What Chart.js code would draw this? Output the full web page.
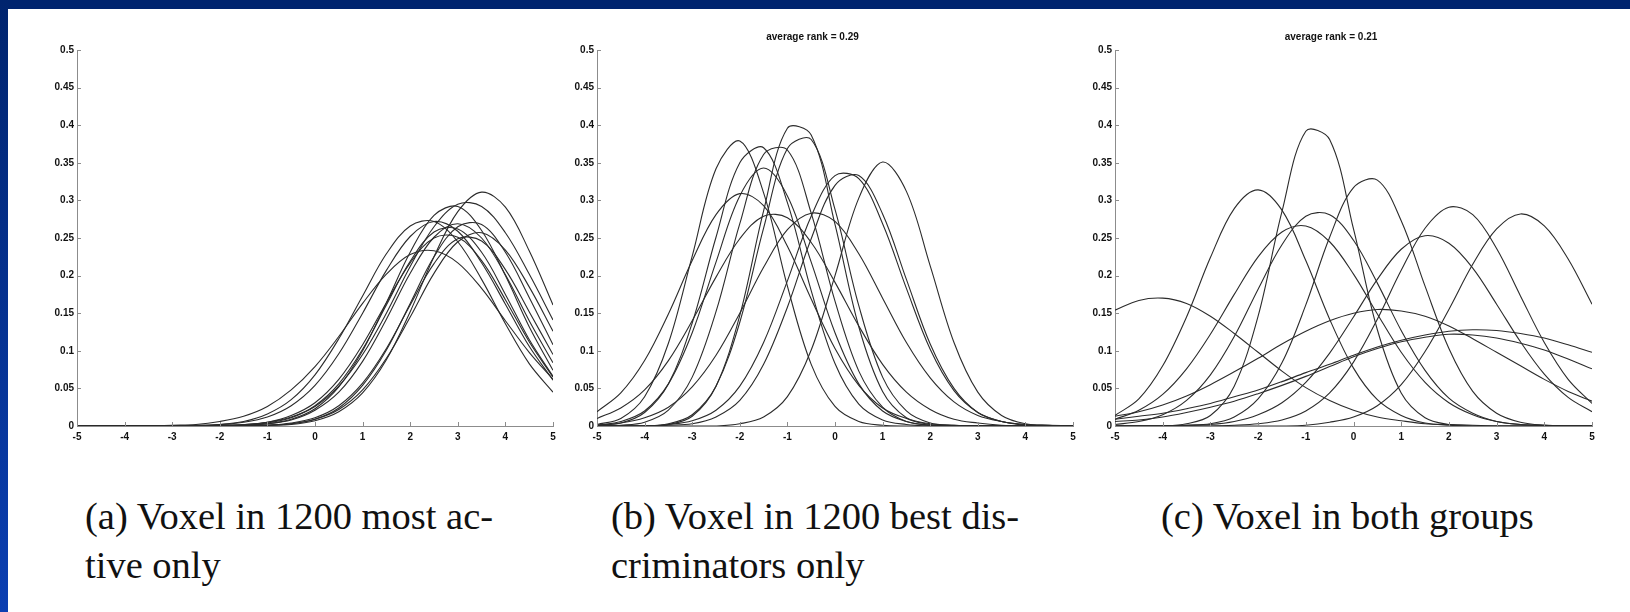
<!DOCTYPE html>
<html>
<head>
<meta charset="utf-8">
<script src="https://cdn.jsdelivr.net/npm/chart.js@4.4.1/dist/chart.umd.min.js"></script>
<style>
  html, body { margin: 0; padding: 0; }
  body { width: 1630px; height: 612px; position: relative; overflow: hidden; background: #fff; }
  .bar-top { position: absolute; left: 0; top: 0; width: 1630px; height: 9px; background: #00246e; }
  .bar-left { position: absolute; left: 0; top: 0; width: 8px; height: 612px; background: linear-gradient(#00246e, #0b3fb2); }
  canvas { position: absolute; }
  .cap { position: absolute; top: 492px; font-family: "Liberation Serif", "Times New Roman", serif; font-size: 38.5px; line-height: 49px; color: #111; white-space: nowrap; }
</style>
</head>
<body>
<div class="bar-top"></div>
<div class="bar-left"></div>

<canvas id="chartA" width="533" height="426" style="left:32px; top:25px"></canvas>
<canvas id="chartB" width="533" height="426" style="left:552px; top:25px"></canvas>
<canvas id="chartC" width="534" height="426" style="left:1070px; top:25px"></canvas>

<div class="cap" style="left:85px">(a) Voxel in 1200 most ac-<br>tive only</div>
<div class="cap" style="left:611px">(b) Voxel in 1200 best dis-<br>criminators only</div>
<div class="cap" style="left:1161px">(c) Voxel in both groups</div>

<script>
// x positions of the sampled curves
const xValues = [-5, -4.5, -4, -3.5, -3, -2.5, -2, -1.5, -1, -0.5, 0, 0.5, 1, 1.5, 2, 2.5, 3, 3.5, 4, 4.5, 5];
const xTickLabels = ['-5', '-4', '-3', '-2', '-1', '0', '1', '2', '3', '4', '5'];
const yTickLabels = ['0', '0.05', '0.1', '0.15', '0.2', '0.25', '0.3', '0.35', '0.4', '0.45', '0.5'];
const panelTitles = ['', 'average rank = 0.29', 'average rank = 0.21'];

// (a) most active only
const a1 = [0,0,0,0,0,0,0,0,0.001,0.002,0.007,0.019,0.044,0.088,0.152,0.225,0.285,0.311,0.291,0.233,0.161];
const a2 = [0,0,0,0,0,0,0.001,0.002,0.005,0.012,0.026,0.053,0.095,0.150,0.212,0.265,0.295,0.292,0.257,0.202,0.141];
const a3 = [0,0,0,0,0,0,0,0.001,0.003,0.009,0.023,0.052,0.100,0.164,0.231,0.280,0.292,0.260,0.200,0.132,0.074];
const a4 = [0,0,0,0,0,0.001,0.002,0.006,0.016,0.035,0.068,0.116,0.173,0.229,0.266,0.272,0.245,0.195,0.136,0.083,0.045];
const a5 = [0,0,0,0,0,0,0.002,0.005,0.012,0.027,0.054,0.096,0.150,0.207,0.252,0.272,0.259,0.217,0.162,0.106,0.061];
const a6 = [0,0,0,0,0,0,0,0,0.001,0.003,0.009,0.024,0.054,0.101,0.163,0.225,0.265,0.268,0.231,0.171,0.108];
const a7 = [0,0,0,0,0,0,0,0.001,0.003,0.008,0.021,0.045,0.086,0.142,0.203,0.251,0.269,0.250,0.201,0.140,0.084];
const a8 = [0,0,0,0,0,0,0,0.001,0.004,0.011,0.027,0.056,0.102,0.161,0.219,0.258,0.262,0.231,0.175,0.115,0.066];
const a9 = [0,0,0,0,0,0,0,0,0.001,0.003,0.009,0.022,0.048,0.090,0.145,0.203,0.245,0.257,0.234,0.185,0.126];
const a10 = [0,0,0,0,0,0,0,0,0.001,0.004,0.011,0.027,0.057,0.103,0.161,0.216,0.249,0.246,0.208,0.152,0.095];
const a11 = [0,0,0,0,0.001,0.002,0.006,0.013,0.026,0.048,0.079,0.119,0.163,0.202,0.228,0.233,0.217,0.183,0.140,0.098,0.062];
const a12 = [0,0,0,0,0,0,0.001,0.002,0.005,0.014,0.031,0.062,0.108,0.164,0.217,0.250,0.251,0.220,0.168,0.112,0.065];

// (b) best discriminators only
const b1 = [0.002,0.010,0.039,0.110,0.226,0.342,0.379,0.310,0.186,0.082,0.026,0.006,0.001,0,0,0,0,0,0,0,0];
const b2 = [0.001,0.004,0.018,0.056,0.137,0.251,0.350,0.370,0.297,0.180,0.083,0.029,0.008,0.002,0,0,0,0,0,0,0];
const b3 = [0,0.001,0.005,0.021,0.065,0.152,0.269,0.361,0.367,0.283,0.166,0.073,0.025,0.006,0.001,0,0,0,0,0,0];
const b4 = [0,0,0,0.002,0.013,0.053,0.147,0.286,0.396,0.387,0.268,0.132,0.046,0.011,0.002,0,0,0,0,0,0];
const b5 = [0,0,0,0.003,0.015,0.053,0.138,0.263,0.369,0.381,0.288,0.160,0.065,0.020,0.004,0.001,0,0,0,0,0];
const b6 = [0.001,0.006,0.020,0.056,0.124,0.218,0.306,0.343,0.306,0.218,0.124,0.056,0.020,0.006,0.001,0,0,0,0,0,0];
const b7 = [0.019,0.044,0.087,0.149,0.220,0.281,0.309,0.293,0.239,0.169,0.103,0.054,0.024,0.010,0.003,0.001,0,0,0,0,0];
const b8 = [0.010,0.024,0.048,0.087,0.140,0.198,0.249,0.279,0.277,0.244,0.191,0.133,0.082,0.045,0.022,0.009,0.004,0.001,0,0,0];
const b9 = [0.001,0.004,0.011,0.025,0.052,0.094,0.150,0.211,0.261,0.283,0.272,0.229,0.170,0.111,0.064,0.032,0.014,0.006,0.002,0.001,0];
const b10 = [0,0,0,0.002,0.007,0.021,0.053,0.111,0.193,0.279,0.333,0.329,0.269,0.183,0.102,0.047,0.018,0.006,0.002,0,0];
const b11 = [0,0,0,0.001,0.003,0.012,0.034,0.082,0.158,0.249,0.320,0.333,0.282,0.195,0.109,0.050,0.018,0.006,0.001,0,0];
const b12 = [0,0,0,0,0,0,0.003,0.012,0.039,0.101,0.200,0.303,0.351,0.312,0.213,0.111,0.045,0.014,0.003,0.001,0];

// (c) both groups
const c1 = [0,0,0,0.003,0.014,0.053,0.146,0.285,0.392,0.381,0.262,0.128,0.044,0.011,0.002,0,0,0,0,0,0];
const c2 = [0.014,0.036,0.080,0.145,0.224,0.289,0.314,0.287,0.220,0.142,0.077,0.035,0.014,0.004,0.001,0,0,0,0,0,0];
const c3 = [0,0,0,0.001,0.003,0.012,0.036,0.084,0.161,0.251,0.317,0.327,0.273,0.186,0.103,0.046,0.017,0.005,0.001,0,0];
const c4 = [0.002,0.006,0.015,0.034,0.068,0.119,0.182,0.241,0.279,0.281,0.247,0.190,0.127,0.074,0.037,0.017,0.006,0.002,0.001,0,0];
const c5 = [0.009,0.021,0.042,0.076,0.122,0.175,0.225,0.258,0.266,0.245,0.202,0.149,0.098,0.058,0.031,0.015,0.006,0.002,0.001,0,0];
const c6 = [0,0,0,0,0,0.001,0.003,0.008,0.020,0.044,0.085,0.142,0.207,0.263,0.291,0.281,0.236,0.173,0.111,0.062,0.030];
const c7 = [0,0,0,0.001,0.002,0.006,0.015,0.031,0.058,0.097,0.145,0.195,0.235,0.253,0.243,0.210,0.162,0.112,0.069,0.038,0.019];
const c8 = [0,0,0,0,0,0,0,0,0.001,0.005,0.012,0.027,0.055,0.099,0.155,0.215,0.262,0.282,0.266,0.222,0.162];
const c9 = [0.154,0.167,0.170,0.163,0.146,0.123,0.098,0.073,0.051,0.034,0.021,0.012,0.007,0.003,0.002,0.001,0,0,0,0,0];
const c10 = [0.013,0.019,0.028,0.040,0.055,0.072,0.090,0.109,0.126,0.140,0.150,0.155,0.153,0.146,0.133,0.116,0.098,0.080,0.062,0.046,0.033];
const c11 = [0.009,0.013,0.017,0.023,0.030,0.039,0.048,0.059,0.071,0.082,0.094,0.105,0.114,0.121,0.126,0.128,0.127,0.123,0.117,0.108,0.098];
const c12 = [0.006,0.008,0.012,0.018,0.025,0.033,0.043,0.054,0.066,0.079,0.092,0.103,0.112,0.118,0.122,0.121,0.117,0.110,0.101,0.089,0.076];

const seriesA = [a1, a2, a3, a4, a5, a6, a7, a8, a9, a10, a11, a12];
const seriesB = [b1, b2, b3, b4, b5, b6, b7, b8, b9, b10, b11, b12];
const seriesC = [c1, c2, c3, c4, c5, c6, c7, c8, c9, c10, c11, c12];

const axisColor = '#8c8c8c';
const tickFont = { family: 'Liberation Sans', size: 10, weight: 'bold' };

// small tick marks pointing into the plot, like matlab
const innerTicks = {
    id: 'innerTicks',
    afterDatasetsDraw(chart) {
        const { ctx, chartArea, scales: { x, y } } = chart;
        ctx.save();
        ctx.strokeStyle = axisColor;
        ctx.lineWidth = 1;
        ctx.beginPath();
        x.ticks.forEach(t => {
            const px = Math.round(x.getPixelForValue(t.value)) + 0.5;
            ctx.moveTo(px, chartArea.bottom);
            ctx.lineTo(px, chartArea.bottom - 4);
        });
        y.ticks.forEach(t => {
            const py = Math.round(y.getPixelForValue(t.value)) + 0.5;
            ctx.moveTo(chartArea.left, py);
            ctx.lineTo(chartArea.left + 4, py);
        });
        ctx.stroke();
        ctx.restore();
    }
};

function makeChart(id, series, title) {
    new Chart(document.getElementById(id), {
        type: 'line',
        data: {
            labels: xValues,
            datasets: series.map(s => ({
                data: s,
                borderColor: '#2b2b2b',
                borderWidth: 1.1,
                pointRadius: 0,
                tension: 0.35,
                fill: false
            }))
        },
        options: {
            responsive: false,
            animation: false,
            devicePixelRatio: 1,
            layout: { padding: { left: 0, right: 12, top: title ? 0 : 25, bottom: 0 } },
            plugins: {
                legend: { display: false },
                tooltip: { enabled: false },
                title: {
                    display: !!title,
                    text: title,
                    color: '#111',
                    font: { family: 'Liberation Sans', size: 10, weight: 'bold', lineHeight: 1.2 },
                    padding: { top: 6, bottom: 7 }
                }
            },
            scales: {
                x: {
                    type: 'linear',
                    min: -5,
                    max: 5,
                    afterFit: s => { s.height = 25; },
                    grid: { display: false, drawTicks: false },
                    border: { display: true, color: axisColor, width: 1 },
                    ticks: {
                        stepSize: 1,
                        autoSkip: false,
                        maxRotation: 0,
                        padding: 5,
                        color: '#111',
                        font: tickFont,
                        callback: (v, i) => xTickLabels[i]
                    }
                },
                y: {
                    min: 0,
                    max: 0.5,
                    afterFit: s => { s.width = 45; },
                    grid: { display: false, drawTicks: false },
                    border: { display: true, color: axisColor, width: 1 },
                    ticks: {
                        stepSize: 0.05,
                        autoSkip: false,
                        padding: 3,
                        color: '#111',
                        font: tickFont,
                        callback: (v, i) => yTickLabels[i]
                    }
                }
            }
        },
        plugins: [innerTicks]
    });
}

makeChart('chartA', seriesA, panelTitles[0]);
makeChart('chartB', seriesB, panelTitles[1]);
makeChart('chartC', seriesC, panelTitles[2]);
</script>
</body>
</html>
